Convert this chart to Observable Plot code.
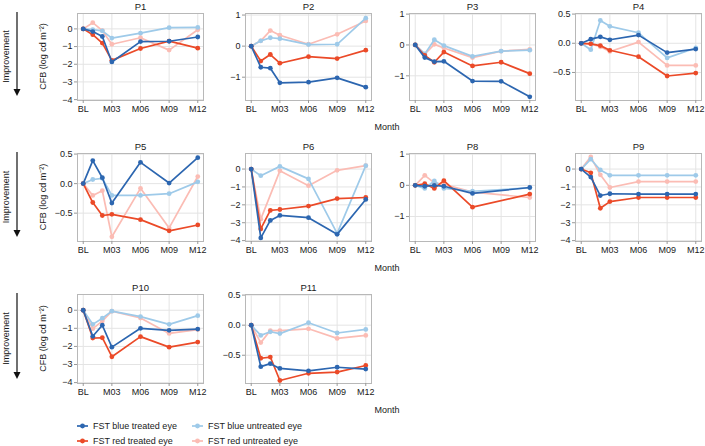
<!DOCTYPE html>
<html><head><meta charset="utf-8">
<script src="https://cdn.jsdelivr.net/npm/d3@7"></script>
<script src="https://cdn.jsdelivr.net/npm/@observablehq/plot@0.6"></script>
<style>
body{margin:0;background:#fff;}
#chart{position:relative;width:705px;height:446px;overflow:hidden;font-family:"Liberation Sans",Arial,sans-serif;}
#chart > div{position:absolute;}
#overlay{position:absolute;left:0;top:0;}
</style></head><body><div id="chart"></div>
<script>
// ---------- data ----------
const panels = ["P1","P2","P3","P4","P5","P6","P8","P9","P10","P11"];
const months = [0,1,2,3,6,9,12];
const monthTicks = [0,3,6,9,12];
const monthLabels = ["BL","M03","M06","M09","M12"];
const seriesNames = ["FST blue treated eye","FST blue untreated eye","FST red treated eye","FST red untreated eye"];
const seriesColors = ["#2c66b0","#9ecae9","#eb4a28","#fbbcb4"];

// one row per panel, values at months 0,1,2,3,6,9,12 (null = not measured)
const blueTreated = [
  [0,-0.15,-0.43,-1.87,-0.72,-0.70,-0.46],
  [0,-0.68,-0.71,-1.18,-1.16,-1.02,-1.32],
  [0,-0.41,-0.54,-0.53,-1.17,-1.18,-1.68],
  [0,0.07,0.11,0.06,0.14,-0.16,-0.10],
  [0,0.39,0.10,-0.33,0.36,0.01,0.44],
  [0,-3.85,-2.87,-2.59,-2.72,-3.65,-1.70],
  [0,-0.03,0.00,-0.03,-0.26,null,-0.07],
  [0,-0.45,-1.48,-1.38,-1.40,-1.40,-1.40],
  [0,-1.44,-0.83,-2.04,-1.00,-1.11,-1.04],
  [0,-0.69,-0.64,-0.72,-0.76,-0.70,-0.73]
];
const blueUntreated = [
  [0,-0.04,-0.11,-0.52,-0.24,0.07,0.08],
  [0,0.17,0.27,0.24,0.05,0.06,0.90],
  [0,-0.29,0.17,-0.02,-0.37,-0.20,-0.17],
  [0,-0.11,0.39,0.29,0.18,-0.25,-0.08],
  [0,0.07,0.09,-0.20,-0.20,-0.17,0.03],
  [0,-0.37,null,0.15,-0.55,-3.60,0.19],
  [0,-0.10,0.14,-0.10,-0.19,null,-0.08],
  [0,0.55,-0.05,-0.35,-0.35,-0.35,-0.35],
  [0,-0.78,-0.44,-0.05,-0.35,-0.78,-0.30],
  [0,-0.17,-0.11,-0.14,0.04,-0.13,-0.07]
];
const redTreated = [
  [0,-0.33,-0.80,-1.78,-1.11,-0.69,-1.09],
  [0,-0.48,-0.27,-0.55,-0.34,-0.40,-0.13],
  [0,-0.34,-0.56,-0.23,-0.68,-0.56,-0.93],
  [0,-0.01,-0.04,-0.12,-0.23,-0.56,-0.51],
  [0,-0.32,-0.54,-0.52,-0.61,-0.80,-0.70],
  [0,-3.35,-2.31,-2.26,-2.07,-1.65,-1.59],
  [0,0.05,-0.10,0.15,-0.70,null,-0.28],
  [0,-0.21,-2.19,-1.82,-1.59,-1.59,-1.59],
  [0,-1.54,-1.52,-2.57,-1.46,-2.04,-1.76],
  [0,-0.55,-0.53,-0.92,-0.80,-0.78,-0.67]
];
const redUntreated = [
  [0,0.35,-0.10,-0.87,-0.50,-1.20,-0.05],
  [0,0.17,0.50,0.35,0.06,0.38,0.81],
  [0,-0.30,0.02,-0.10,-0.41,-0.20,-0.14],
  [0,-0.01,-0.06,-0.14,0.02,-0.38,-0.38],
  [0,-0.20,-0.12,-0.90,-0.08,-0.75,0.12],
  [0,-2.80,null,-0.10,-0.93,-0.07,0.19],
  [0,0.32,0.08,0.03,-0.22,null,-0.39],
  [0,0.68,-0.32,-1.03,-0.70,-0.70,-0.70],
  [0,-1.02,-0.60,-0.05,-0.43,-1.28,-1.07],
  [0,-0.29,-0.09,-0.09,-0.06,-0.22,-0.17]
];
const yDomains = [
  [-4.05,0.87],[-1.75,1.05],[-1.8,1.02],[-0.98,0.51],
  [-0.98,0.51],[-4.05,0.87],[-1.8,1.02],[-4.05,0.87],
  [-4.05,0.87],[-0.97,0.51]
];
const yTicks = [
  [0,-1,-2,-3,-4],[1,0,-1],[1,0,-1],[0.5,0,-0.5],
  [0.5,0,-0.5],[0,-1,-2,-3,-4],[1,0,-1],[0,-1,-2,-3,-4],
  [0,-1,-2,-3,-4],[0.5,0,-0.5]
];

// ---------- layout ----------
const FONT = '"Liberation Sans",Arial,sans-serif';
const FW = 126;
const colLeft = [77,245,409,575];
const rowTop = [13,153,294];
const rowH = [87,88,89];
const mL = 34, mR = 4, mT = 14, mB = 22;
const chart = document.getElementById("chart");

// draw order: red untreated, blue untreated, red treated, blue treated
const drawOrder = [
  {vals: redUntreated, color: seriesColors[3]},
  {vals: blueUntreated, color: seriesColors[1]},
  {vals: redTreated, color: seriesColors[2]},
  {vals: blueTreated, color: seriesColors[0]}
];

panels.forEach((name, i) => {
  const r = Math.floor(i / 4), c = i % 4;
  const marks = [
    Plot.gridX(monthTicks, {stroke: "#e4e4e4", strokeOpacity: 1}),
    Plot.gridY(yTicks[i], {stroke: "#e4e4e4", strokeOpacity: 1}),
    Plot.frame({stroke: "#b8b8b8"}),
    Plot.axisX(monthTicks, {tickSize: 3, tickPadding: 2, label: null, stroke: "#999",
      tickFormat: d => monthLabels[monthTicks.indexOf(d)]}),
    Plot.axisY(yTicks[i], {tickSize: 3, tickPadding: 2, label: null, stroke: "#999"})
  ];
  drawOrder.forEach(s => {
    const data = months.map((m, k) => ({m, v: s.vals[i][k]})).filter(d => d.v != null);
    marks.push(Plot.line(data, {x: "m", y: "v", stroke: s.color, strokeWidth: 1.7}));
    marks.push(Plot.dot(data, {x: "m", y: "v", fill: s.color, r: 2.4}));
  });
  marks.push(Plot.text([name], {text: d => d, frameAnchor: "top", lineAnchor: "bottom", dy: -4, fontSize: 9.5}));
  const svg = Plot.plot({
    width: mL + FW + mR, height: mT + rowH[r] + mB,
    marginLeft: mL, marginRight: mR, marginTop: mT, marginBottom: mB,
    x: {domain: [-0.6, 12.6]},
    y: {domain: yDomains[i]},
    marks,
    style: {fontFamily: FONT, fontSize: "9px", color: "#1a1a1a", background: "transparent", overflow: "visible"}
  });
  const div = document.createElement("div");
  div.style.left = (colLeft[c] - mL) + "px";
  div.style.top = (rowTop[r] - mT) + "px";
  div.appendChild(svg);
  chart.appendChild(div);
});

// ---------- annotations & legend ----------
const ov = d3.select(chart).append("svg").attr("id", "overlay")
  .attr("width", 705).attr("height", 446)
  .style("font-family", FONT).style("font-size", "9px");

rowTop.forEach((t, r) => {
  const h = rowH[r];
  const cy = t + h / 2;
  // arrow
  ov.append("line").attr("x1", 17).attr("x2", 17).attr("y1", t - 1).attr("y2", t + h - 10)
    .attr("stroke", "#111").attr("stroke-width", 1.2);
  ov.append("path").attr("d", `M13.5,${t + h - 11}L20.5,${t + h - 11}L17,${t + h - 4}Z`).attr("fill", "#111");
  ov.append("text").attr("transform", `translate(9,${cy}) rotate(-90)`)
    .attr("text-anchor", "middle").attr("fill", "#1a1a1a").text("Improvement");
  ov.append("text").attr("transform", `translate(46,${cy}) rotate(-90)`)
    .attr("text-anchor", "middle").attr("fill", "#1a1a1a").text("CFB (log cd m⁻²)");
  ov.append("text").attr("x", 387).attr("y", t + h + 30)
    .attr("text-anchor", "middle").attr("fill", "#1a1a1a").text("Month");
});

const legendPos = [[77, 426], [192, 426], [77, 441], [192, 441]];
seriesNames.forEach((n, k) => {
  const [x, y] = legendPos[k];
  const g = ov.append("g");
  g.append("line").attr("x1", x).attr("x2", x + 11).attr("y1", y).attr("y2", y)
    .attr("stroke", seriesColors[k]).attr("stroke-width", 1.7);
  g.append("circle").attr("cx", x + 5.5).attr("cy", y).attr("r", 2.4).attr("fill", seriesColors[k]);
  g.append("text").attr("x", x + 16).attr("y", y + 3.2).attr("fill", "#1a1a1a").text(n);
});
</script>
</body></html>
